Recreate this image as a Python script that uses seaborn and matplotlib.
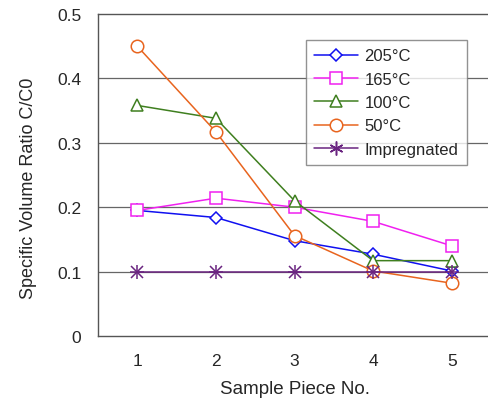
import matplotlib
matplotlib.use("Agg")
import matplotlib.pyplot as plt
import seaborn as sns
import pandas as pd
import numpy as np
from matplotlib.ticker import FixedLocator
from matplotlib.lines import Line2D

samples = [1, 2, 3, 4, 5]
s205 = [0.195, 0.184, 0.148, 0.127, 0.101]
s165 = [0.195, 0.214, 0.200, 0.178, 0.140]
s100 = [0.358, 0.338, 0.210, 0.117, 0.117]
s50 = [0.450, 0.317, 0.156, 0.101, 0.082]
simp = [0.100, 0.100, 0.100, 0.100, 0.100]
labels = ["205°C", "165°C", "100°C", "50°C", "Impregnated"]
yticks = [0, 0.1, 0.2, 0.3, 0.4, 0.5]
yticklabels = ["0", "0.1", "0.2", "0.3", "0.4", "0.5"]

sns.set_style("white")
plt.rcParams['font.family'] = ['Liberation Sans', 'DejaVu Sans']

df = pd.DataFrame({
    "x": samples * 5,
    "y": s205 + s165 + s100 + s50 + simp,
    "series": sum([[l] * 5 for l in labels], []),
})

colors = ["#1010F0", "#F020F0", "#3F7F1F", "#E8641E", "#6A2480"]
markers = ["D", "s", "^", "o", "x"]
msizes = [6, 8, 9, 9, 9]

fig = plt.figure(figsize=(4.89, 4.10), dpi=100)
ax = fig.add_axes([98/489, (410-337)/410, 393/489, 322/410])

for lab, c, m, ms in zip(labels, colors, markers, msizes):
    sub = df[df.series == lab]
    sns.lineplot(data=sub, x="x", y="y", ax=ax, color=c, lw=1.1, label=lab,
                 marker=m, markersize=ms, markerfacecolor="white" if m != "x" else c,
                 markeredgecolor=c, markeredgewidth=1.1)
sub = df[df.series == "Impregnated"]
ax.plot(sub.x, sub.y, ls="none", marker="+", markersize=10, color=colors[4], mew=1.1)

ax.set_xlim(0.5, 5.5)
ax.set_ylim(0, 0.5)
ax.set_yticks(yticks)
ax.set_yticklabels(yticklabels)
ax.set_xticks(samples)
ax.xaxis.set_minor_locator(FixedLocator([1.5, 2.5, 3.5, 4.5]))
ax.tick_params(axis="x", which="major", length=0, labelsize=12.5, pad=12)
ax.tick_params(axis="x", which="minor", direction="in", length=6, color="#555555")
ax.tick_params(axis="y", length=0, labelsize=12.5, pad=12)
for yv in [0.1, 0.2, 0.3, 0.4]:
    ax.axhline(yv, color="#666666", lw=0.9, zorder=0)
for sp in ["left", "bottom", "top"]:
    ax.spines[sp].set_color("#555555")
    ax.spines[sp].set_linewidth(1.0)
ax.spines["right"].set_visible(False)
ax.set_xlabel("Sample Piece No.", fontsize=13.5, labelpad=9)
ax.set_ylabel("Specific Volume Ratio C/C0", fontsize=13)
ax.yaxis.set_label_coords(-0.155, 0.462)

handles, labs = ax.get_legend_handles_labels()
handles[4] = Line2D([], [], color=colors[4], lw=1.1, marker=(6, 2, 0), markersize=10, mew=1.1)
leg = ax.legend(handles[:5], labs[:5], loc="upper left", bbox_to_anchor=(208/393, 1 - 26/322),
                frameon=True, fancybox=False, edgecolor="#777777", fontsize=12,
                handlelength=2.6, borderpad=0.5, labelspacing=0.5, handletextpad=0.4,
                borderaxespad=0)
leg.get_frame().set_linewidth(1.0)

fig.savefig("out.png", dpi=100)
